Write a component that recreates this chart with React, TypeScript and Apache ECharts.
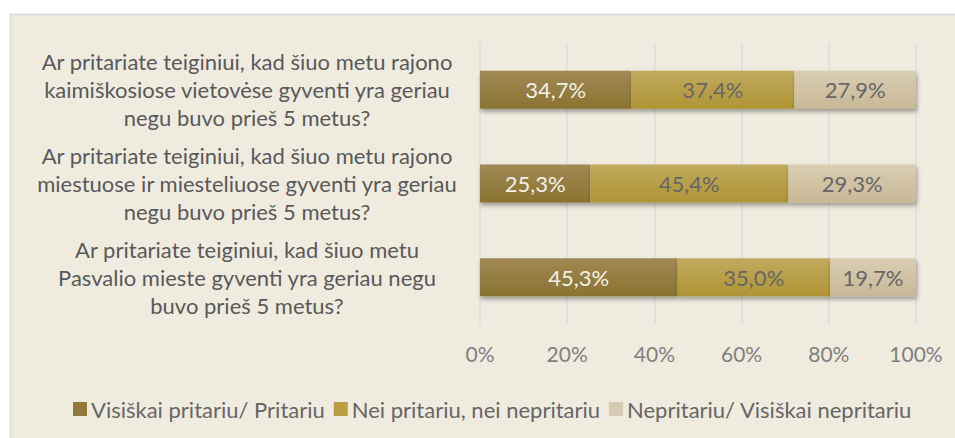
import React, { useEffect, useRef } from "react";
import * as echarts from "echarts";

const categories = [
  "Ar pritariate teiginiui, kad šiuo metu rajono\nkaimiškosiose vietovėse gyventi yra geriau\nnegu buvo prieš 5 metus?",
  "Ar pritariate teiginiui, kad šiuo metu rajono\nmiestuose ir miesteliuose gyventi yra geriau\nnegu buvo prieš 5 metus?",
  "Ar pritariate teiginiui, kad šiuo metu\nPasvalio mieste gyventi yra geriau negu\nbuvo prieš 5 metus?",
];
const seriesNames = [
  "Visiškai pritariu/ Pritariu",
  "Nei pritariu, nei nepritariu",
  "Nepritariu/ Visiškai nepritariu",
];
const agree = [34.7, 25.3, 45.3];
const neutral = [37.4, 45.4, 35.0];
const disagree = [27.9, 29.3, 19.7];
const tickValues = [0, 20, 40, 60, 80, 100];

const FONT = "Lato";

function grad(top: string, bottom: string) {
  return new echarts.graphic.LinearGradient(0, 0, 0, 1, [
    { offset: 0, color: top },
    { offset: 1, color: bottom },
  ]);
}

export default function App() {
  const ref = useRef<HTMLDivElement>(null);
  useEffect(() => {
    if (!ref.current) return;
    const chart = echarts.init(ref.current, undefined, { renderer: "svg" });
    const fmt = (p: any) => p.value.toFixed(1).replace(".", ",") + "%";
    const mk = (name: string, data: number[], top: string, bottom: string, lblColor: string, legendColor: string) => ({
      name,
      type: "bar",
      stack: "total",
      data: data.map((v) => ({ value: v })),
      barWidth: 38,
      itemStyle: {
        color: grad(top, bottom),
        shadowBlur: 4,
        shadowOffsetX: 1,
        shadowOffsetY: 3,
        shadowColor: "rgba(0,0,0,0.35)",
      },
      label: {
        show: true,
        position: "inside",
        formatter: fmt,
        color: lblColor,
        fontSize: 22,
        fontFamily: FONT,
      },
      emphasis: { disabled: true },
      legendColor,
    });
    const series = [
      mk(seriesNames[0], agree, "#a08a55", "#8a7230", "#f4f0e6", "#8f7838"),
      mk(seriesNames[1], neutral, "#c0aa5e", "#b09434", "#666666", "#b89d42"),
      mk(seriesNames[2], disagree, "#d9cdb2", "#c8b996", "#666666", "#d6cab0"),
    ];
    chart.setOption({
      animation: false,
      backgroundColor: "#ffffff",
      graphic: [
        {
          type: "rect",
          z: -10,
          silent: true,
          shape: { x: 10.5, y: 14.5, width: 960, height: 440 },
          style: { fill: "#f0ebdf", stroke: "#d9d9d9", lineWidth: 1.5 },
        },
      ],
      grid: { left: 480, right: 39, top: 43, height: 281 },
      legend: {
        left: 68,
        top: 393,
        itemWidth: 14,
        itemHeight: 14,
        itemGap: 9,
        icon: "rect",
        textStyle: { color: "#666666", fontSize: 22, fontFamily: FONT, padding: [0, 0, 0, -1] },
        data: series.map((s) => ({ name: s.name, itemStyle: { color: s.legendColor, shadowBlur: 0, shadowOffsetX: 0, shadowOffsetY: 0 } })),
      },
      xAxis: {
        type: "value",
        min: tickValues[0],
        max: tickValues[tickValues.length - 1],
        interval: 20,
        axisLine: { show: false },
        axisTick: { show: false },
        splitLine: { show: true, lineStyle: { color: "#dadde3", width: 1.5 } },
        axisLabel: {
          formatter: (v: number) => v + "%",
          color: "#7f7f7f",
          fontSize: 21,
          fontFamily: FONT,
          margin: 19,
        },
      },
      yAxis: {
        type: "category",
        inverse: true,
        data: categories,
        axisLine: { show: false },
        axisTick: { show: false },
        axisLabel: {
          align: "center",
          margin: 233,
          color: "#595959",
          fontSize: 22,
          lineHeight: 28,
          fontFamily: FONT,
        },
      },
      series: series.map(({ legendColor, ...s }) => s),
    });
    return () => chart.dispose();
  }, []);
  return <div ref={ref} style={{ position: "absolute", left: 0, top: 0, width: 955, height: 438 }} />;
}
